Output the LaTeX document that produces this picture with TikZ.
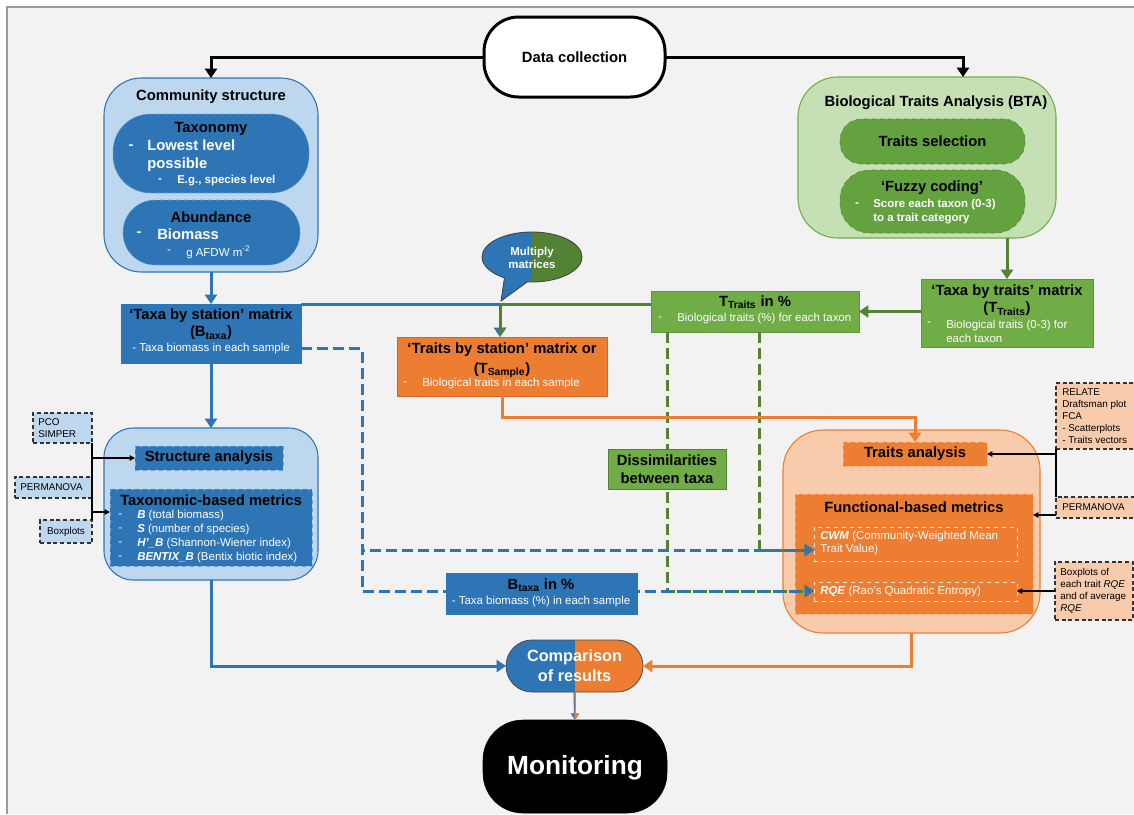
\documentclass[tikz,border=0pt]{standalone}
\usepackage{fontspec}
\setmainfont{Liberation Sans}
\usetikzlibrary{arrows.meta,fit,shapes.callouts,calc}
\definecolor{cBg}{HTML}{F2F2F2}
\definecolor{cLBlue}{HTML}{BDD7EE}
\definecolor{cBlue}{HTML}{2E75B6}
\definecolor{cPill}{HTML}{6FA3DA}
\definecolor{cLGreen}{HTML}{C5E0B4}
\definecolor{cGreen}{HTML}{70AD47}
\definecolor{cDGreen}{HTML}{548235}
\definecolor{cPGreen}{HTML}{64A23F}
\definecolor{cOrange}{HTML}{ED7D31}
\definecolor{cLOrange}{HTML}{F8CBAD}
\tikzset{
  bx/.style={inner sep=0pt, outer sep=0pt},
  ttl/.style={font=\fontsize{11.1}{13.5}\selectfont\bfseries, inner sep=0pt, align=center},
  sml/.style={font=\fontsize{8.6}{10.5}\selectfont, inner sep=0pt},
  smb/.style={font=\fontsize{8.6}{10}\selectfont\bfseries, inner sep=0pt},
  side/.style={font=\fontsize{7.4}{9}\selectfont, inner sep=0pt, align=left},
  bigtip/.style={-{Triangle[length=7pt,width=9pt]}},
  blackln/.style={draw=black, line width=2.25pt, bigtip},
  blueln/.style={draw=cBlue, line width=2.25pt},
  greenln/.style={draw=cDGreen, line width=2.25pt},
  bluearr/.style={blueln, bigtip},
  greenarr/.style={greenln, bigtip},
  orangearr/.style={draw=cOrange, line width=2.25pt, bigtip},
  tarr/.style={draw=black, line width=0.9pt, -{Triangle[length=4pt,width=4pt]}},
  sideblue/.style={bx, fill=cLBlue, draw=black!80, line width=0.9pt, dash pattern=on 3pt off 2pt},
  sideorange/.style={bx, fill=cLOrange, draw=black!80, line width=0.9pt, dash pattern=on 3pt off 2pt},
  bdash/.style={draw=cBlue, line width=2.25pt, dash pattern=on 8pt off 4pt},
  gdash/.style={draw=cDGreen, line width=2.25pt, dash pattern=on 8pt off 4pt},
}
\begin{document}
\begin{tikzpicture}[x=0.75pt,y=-0.75pt]
\useasboundingbox (0,0) rectangle (1134,814);
\fill[white] (0,0) rectangle (1134,814);
\fill[cBg] (7,7) rectangle (1134,814);
\draw[gray!80, line width=1.5pt] (7,814) -- (7,7) -- (1134,7);

% ---------- Data collection
\node[bx, fit={(484,17)(665,97)}, draw=black, line width=2.25pt, fill=white, rounded corners=26pt] (dc) {};
\node[ttl] (dct) at (dc.center) {Data collection};

% ---------- Community structure
\node[bx, fit={(104,78)(318,272)}, draw=cBlue, line width=0.8pt, fill=cLBlue, rounded corners=28pt] (cs) {};
\node[ttl] (cst) at (211,97) {Community structure};
\node[bx, fit={(113,114)(309,193)}, fill=cBlue, draw=cPill, dashed, rounded corners=28pt] (tx) {};
\node[ttl] (txt) at (211,129) {Taxonomy};
\node[ttl, text=white] (txd) at (131,147) {-};
\node[ttl, text=white, anchor=west, align=left] (txl) at (147,156) {Lowest level\\possible};
\node[smb, text=white] (txd2) at (160,181) {-};
\node[smb, text=white, anchor=west] (txe) at (177,181) {E.g., species level};
\node[bx, fit={(123,200)(300,265)}, fill=cBlue, draw=cPill, dashed, rounded corners=24pt] (ab) {};
\node[ttl] (abt) at (211,217) {Abundance};
\node[ttl, text=white] (abd) at (139,234) {-};
\node[ttl, text=white, anchor=west] (abb) at (157,234) {Biomass};
\node[sml, text=white] (abd2) at (169,252) {-};
\node[sml, text=white, anchor=west] (abg) at (186,252) {g AFDW m\textsuperscript{-2}};

% ---------- BTA
\node[bx, fit={(798,77)(1056,238)}, draw=cGreen, line width=0.8pt, fill=cLGreen, rounded corners=30pt] (bta) {};
\node[ttl] (btat) at (936,103) {Biological Traits Analysis (BTA)};
\node[bx, fit={(840,119)(1025,164)}, fill=cPGreen, draw=cDGreen, dashed, rounded corners=16pt] (tsel) {};
\node[ttl] (tselt) at (tsel.center) {Traits selection};
\node[bx, fit={(840,170)(1025,233)}, fill=cPGreen, draw=cDGreen, dashed, rounded corners=22pt] (fz) {};
\node[ttl] (fzt) at (932,188) {‘Fuzzy coding’};
\node[smb, text=white] (fzd) at (857,205) {-};
\node[smb, text=white, anchor=west, align=left] (fzs) at (873,211.5) {Score each taxon (0-3)\\to a trait category};

% ---------- Matrices
\node[bx, fit={(121,304)(301,363)}, fill=cBlue, draw=cBlue] (tbs) {};
\node[ttl] (tbs1) at (211,316) {‘Taxa by station’ matrix};
\node[ttl] (tbs2) at (211,333) {(B\textsubscript{taxa})};
\node[sml, text=white] (tbs3) at (211,349) {- Taxa biomass in each sample};

\node[bx, fit={(397,337)(607,396)}, fill=cOrange, draw=cOrange!85!black] (tbst) {};
\node[ttl] (tbst1) at (502,350) {‘Traits by station’ matrix or};
\node[ttl] (tbst2) at (502,370) {(T\textsubscript{Sample})};
\node[sml, text=white] (tbst3) at (405,384) {-};
\node[sml, text=white, anchor=west] (tbst4) at (422,384) {Biological traits in each sample};

\node[bx, fit={(651,291)(859,332)}, fill=cGreen, draw=cGreen!85!black] (ttr) {};
\node[ttl] (ttr1) at (755,302) {T\textsubscript{Traits} in \%};
\node[sml, text=white] (ttr2) at (660,319) {-};
\node[sml, text=white, anchor=west] (ttr3) at (677,319) {Biological traits (\%) for each taxon};

\node[bx, fit={(921,279)(1093,347)}, fill=cGreen, draw=cGreen!85!black] (tbt) {};
\node[ttl] (tbt1) at (1007,292) {‘Taxa by traits’ matrix};
\node[ttl] (tbt2) at (1007,309) {(T\textsubscript{Traits})};
\node[sml, text=white] (tbt3) at (929,324) {-};
\node[sml, text=white, anchor=west, align=left] (tbt4) at (946,331) {Biological traits (0-3) for\\each taxon};

% ---------- Multiply bubble
\coordinate (mmL) at (460,215);
\coordinate (mmM) at (532,310);
\coordinate (mmptr) at (501,301);
\node[ellipse callout, draw=black!75, line width=0.6pt, fill=cDGreen, minimum width=75pt, minimum height=37.5pt, inner sep=0pt, callout absolute pointer={(mmptr)}, callout pointer arc=28, path picture={\fill[cBlue, sharp corners] (mmL) rectangle (mmM);}] (mm) at (532,257) {};
\node[smb, text=white, align=center] (mmt) at (532,258) {Multiply\\matrices};

% ---------- Structure analysis (left)
\node[bx, fit={(104,428)(318,580)}, draw=cBlue, line width=0.8pt, fill=cLBlue, rounded corners=22pt] (sab) {};
\node[bx, fit={(135,446)(283,470)}, fill=cBlue, draw=cPill, dashed] (san) {};
\node[ttl] (sant) at (san.center) {Structure analysis};
\node[bx, fit={(110,489)(312,566)}, fill=cBlue, draw=cPill, dashed] (tbm) {};
\node[ttl] (tbmt) at (211,500) {Taxonomic-based metrics};
\node[sml, text=white, anchor=west, align=left] (tbmd) at (118,537) {-\\-\\-\\-};
\node[sml, text=white, anchor=west, align=left] (tbmi) at (137,537) {\textbf{\textit{B}} (total biomass)\\\textbf{\textit{S}} (number of species)\\\textbf{\textit{H’\_B}} (Shannon-Wiener index)\\\textbf{\textit{BENTIX\_B}} (Bentix biotic index)};

\node[sideblue, fit={(33,413)(92,443)}] (pco) {};
\node[side, anchor=west] (pcot) at (38,428) {PCO\\SIMPER};
\node[sideblue, fit={(15,477)(92,498)}] (perm) {};
\node[side, anchor=west] (permt) at (20,487.5) {PERMANOVA};
\node[sideblue, fit={(40,520)(92,543)}] (boxp) {};
\node[side] (boxpt) at (boxp.center) {Boxplots};
\draw[black, line width=0.9pt] (pco.south east) -- (boxp.north east);
\draw[tarr] (pco.south east |- san.west) -- (san.west);
\coordinate (la2) at (92,512);
\draw[tarr] (la2) -- (la2 -| tbm.west);

% ---------- Traits analysis (right)
\node[bx, fit={(783,430)(1040,633)}, draw=cOrange, line width=0.8pt, fill=cLOrange, rounded corners=30pt] (tab) {};
\node[bx, fit={(843,442)(987,466)}, fill=cOrange, draw=cLOrange!60!cOrange, dashed] (tan) {};
\node[ttl] (tant) at (tan.center) {Traits analysis};
\node[bx, fit={(795,494)(1033,614)}, fill=cOrange, draw=cLOrange!60!cOrange, dashed] (fbm) {};
\node[ttl] (fbmt) at (914,507) {Functional-based metrics};
\node[bx, fit={(814,527)(1017,561)}, draw=white!85!cOrange, dashed] (cwm) {};
\node[sml, text=white, anchor=west, align=left, font=\fontsize{8.6}{9.75}\selectfont] (cwmt) at (820,543.5) {\textbf{\textit{CWM}} (Community-Weighted Mean\\Trait Value)};
\node[bx, fit={(814,582)(1017,601)}, draw=white!85!cOrange, dashed] (rqe) {};
\node[sml, text=white, anchor=west] (rqet) at (820,592) {\textbf{\textit{RQE}} (Rao’s Quadratic Entropy)};

\node[sideorange, fit={(1056,383)(1145,449)}] (rel) {};
\node[side, anchor=west] (relt) at (1062,416) {RELATE\\Draftsman plot\\FCA\\- Scatterplots\\- Traits vectors};
\node[sideorange, fit={(1056,497)(1145,518)}] (perm2) {};
\node[side, anchor=west] (perm2t) at (1062,507) {PERMANOVA};
\node[sideorange, fit={(1055,562)(1133,620)}] (box2) {};
\node[side, anchor=west] (box2t) at (1060,591) {Boxplots of\\each trait \textit{RQE}\\and of average\\\textit{RQE}};
\draw[black, line width=0.9pt] (rel.south west) -- (perm2.north west);
\draw[tarr] (rel.south west |- tan.east) -- (tan.east);
\coordinate (ra2) at (1056,515);
\draw[tarr] (ra2) -- (ra2 -| fbm.east);
\draw[tarr] (box2.west) -- (box2.west -| rqe.east);

% ---------- B_taxa in %
\node[bx, fit={(446,573)(637,614)}, fill=cBlue, draw=cBlue] (btp) {};
\node[ttl] (btp1) at (541,585) {B\textsubscript{taxa} in \%};
\node[sml, text=white] (btp2) at (541,602) {- Taxa biomass (\%) in each sample};

% ---------- Comparison and Monitoring
\coordinate (cmpL) at (490,630);
\coordinate (cmpM) at (574.5,700);
\node[bx, fit={(506,640)(643,692)}, fill=cOrange, draw=black!70, line width=0.6pt, rounded corners=19.5pt, path picture={\fill[cBlue, sharp corners] (cmpL) rectangle (cmpM);}] (cmp) {};
\node[ttl, text=white, font=\fontsize{12.2}{15}\selectfont\bfseries] (cmpt) at (cmp.center) {Comparison\\of results};
\node[bx, fit={(483,720)(667,813)}, fill=black, draw=black, rounded corners=30pt] (mon) {};
\node[text=white, font=\fontsize{19.7}{22}\selectfont\bfseries, inner sep=0pt] (mont) at (575,768) {Monitoring};

% ---------- Connectors
\draw[blackln] (dc.west) -| (cs.north);
\coordinate (btain) at (963,77);
\draw[blackln] (dc.east) -| (btain);
\draw[greenarr] (tbt.north |- bta.south) -- (tbt.north);
\draw[greenarr] (tbt.west |- ttr.east) -- (ttr.east);
\draw[bluearr] (cs.south) -- (tbs.north);
\draw[bluearr] (tbs.south) -- (sab.north);

\coordinate (mmtip) at (500,304);
\draw[blueln] (tbs.north east) -- (mmtip);
\draw[greenln] (ttr.west |- mmtip) -- (mmtip);
\draw[bluearr] (mmtip) -- (mmtip |- tbst.north);
\begin{scope}
  \clip (500,295) rectangle (515,345);
  \draw[greenarr] (mmtip) -- (mmtip |- tbst.north);
\end{scope}

% dashed
\coordinate (bc) at (362,591);
\coordinate (bb) at (362,550);
\coordinate (g1) at (667,591);
\coordinate (g2) at (759,550);
\draw[bdash] ([yshift=-11.6pt]tbs.east) -| (bc) -- (bc -| btp.west);
\draw[gdash, bigtip] (g1 |- ttr.south) -- (g1) -- (g1 -| rqe.west);
\draw[gdash, bigtip] (g2 |- ttr.south) -- (g2) -- (g2 -| cwm.west);
\draw[bdash, dash phase=6pt, bigtip] (bb) -- (bb -| cwm.west);
\draw[bdash, dash phase=6pt, bigtip] (bc -| btp.east) -- (bc -| rqe.west);

\node[bx, fit={(608,449)(726,489)}, fill=cGreen, draw=cGreen!75!black] (dis) {};
\node[ttl] (dist) at (dis.center) {Dissimilarities\\between taxa};

\draw[orangearr] (tbst.south) -- ++(0,21) -| (tan.north);
\draw[bluearr] (sab.south) |- (cmp.west);
\draw[orangearr] (tab.south) |- (cmp.east);
\draw[draw=cBlue, line width=1.5pt, -{Triangle[length=5pt,width=6pt]}] (cmp.south) -- (mon.north);
\begin{scope}
  \clip (574.5,690) rectangle (590,725);
  \draw[draw=cOrange, line width=1.5pt, -{Triangle[length=5pt,width=6pt]}] (cmp.south) -- (mon.north);
\end{scope}
\end{tikzpicture}
\end{document}
